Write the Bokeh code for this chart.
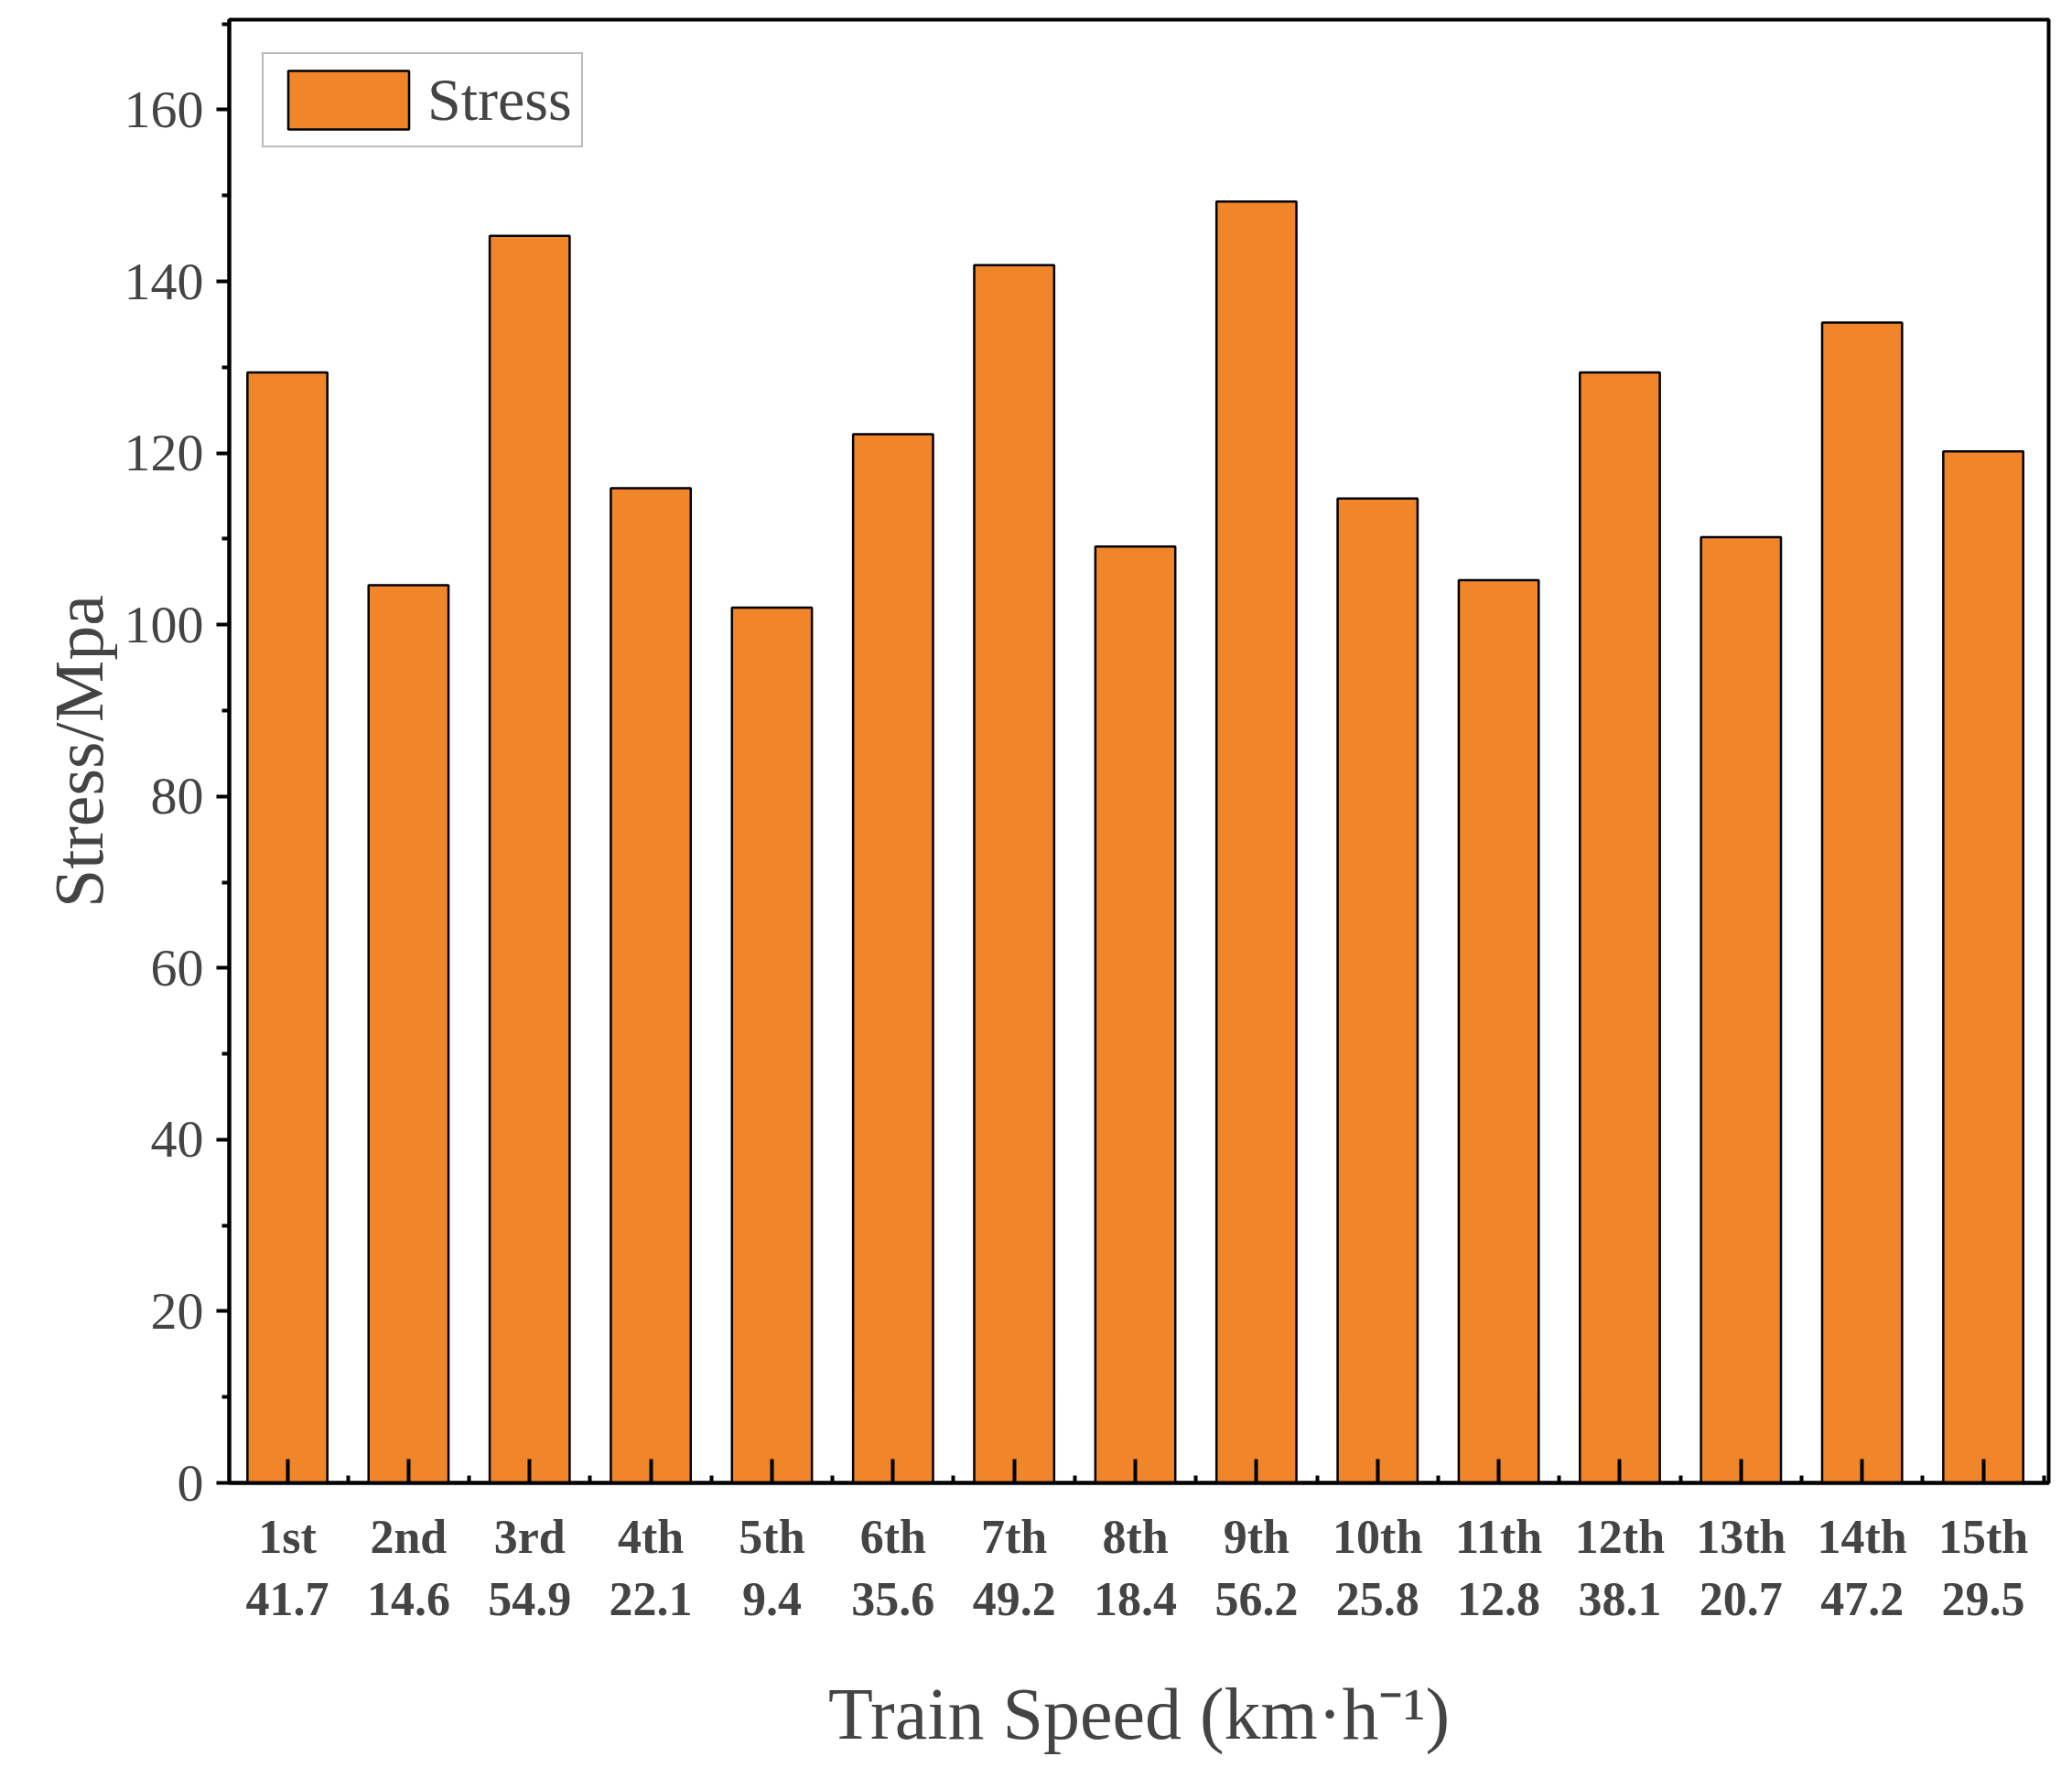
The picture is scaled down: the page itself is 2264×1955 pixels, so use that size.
from bokeh.plotting import figure
from bokeh.models import FixedTicker, Range1d
from bokeh.embed import file_html
from bokeh.resources import INLINE

orders = ["1st","2nd","3rd","4th","5th","6th","7th","8th","9th","10th","11th","12th","13th","14th","15th"]
speeds = ["41.7","14.6","54.9","22.1","9.4","35.6","49.2","18.4","56.2","25.8","12.8","38.1","20.7","47.2","29.5"]
stress = [129.4,104.6,145.3,115.9,102.0,122.2,141.9,109.1,149.3,114.7,105.2,129.4,110.2,135.2,120.2]
xs = list(range(len(stress)))

FONT = "Liberation Serif"
p = figure(width=2248, height=1939, output_backend="svg", toolbar_location=None,
           x_range=Range1d(-0.48, 14.54), y_range=Range1d(0, 170.5),
           min_border_left=250, min_border_top=21, min_border_right=10, min_border_bottom=319)
p.vbar(x=xs, top=stress, width=0.66, fill_color="#F0852A", line_color="black",
       line_width=2.5, legend_label="Stress")

p.grid.visible = False
p.outline_line_color = "black"
p.outline_line_width = 4

ya = p.yaxis[0]
ya.ticker = FixedTicker(ticks=list(range(0, 161, 20)), minor_ticks=list(range(10, 171, 20)))
ya.axis_line_width = 4
ya.major_tick_line_width = 4; ya.minor_tick_line_width = 4
ya.major_tick_out = 14; ya.major_tick_in = 0
ya.minor_tick_out = 8; ya.minor_tick_in = 0
ya.major_label_text_font = FONT; ya.major_label_text_font_size = "58px"
ya.major_label_standoff = 14
ya.axis_label = "Stress/Mpa"
ya.axis_label_text_font = FONT; ya.axis_label_text_font_size = "76px"
ya.axis_label_text_font_style = "normal"

xa = p.xaxis[0]
xa.ticker = FixedTicker(ticks=xs, minor_ticks=[i + 0.5 for i in range(-1, 15)])
xa.major_label_overrides = {i: f"{o}\n{s}" for i, (o, s) in enumerate(zip(orders, speeds))}
xa.axis_line_width = 4
xa.major_tick_line_width = 4; xa.minor_tick_line_width = 4
xa.major_tick_in = 26; xa.major_tick_out = 0
xa.minor_tick_in = 8; xa.minor_tick_out = 0
xa.major_label_text_font = FONT; xa.major_label_text_font_size = "52px"
xa.major_label_text_font_style = "bold"
xa.major_label_standoff = 30
xa.axis_label = "Train Speed (km·h⁻¹)"
xa.axis_label_text_font = FONT; xa.axis_label_text_font_size = "80px"
xa.axis_label_text_font_style = "normal"
xa.axis_label_standoff = 50

lg = p.legend[0]
lg.location = "top_left"
lg.label_text_font = FONT; lg.label_text_font_size = "66px"
lg.glyph_width = 165; lg.glyph_height = 80
lg.border_line_color = "#777777"; lg.border_line_width = 2
lg.margin = 36; lg.padding = 10; lg.spacing = 0
lg.label_standoff = 4

open("out.html", "w").write(file_html(p, INLINE))
